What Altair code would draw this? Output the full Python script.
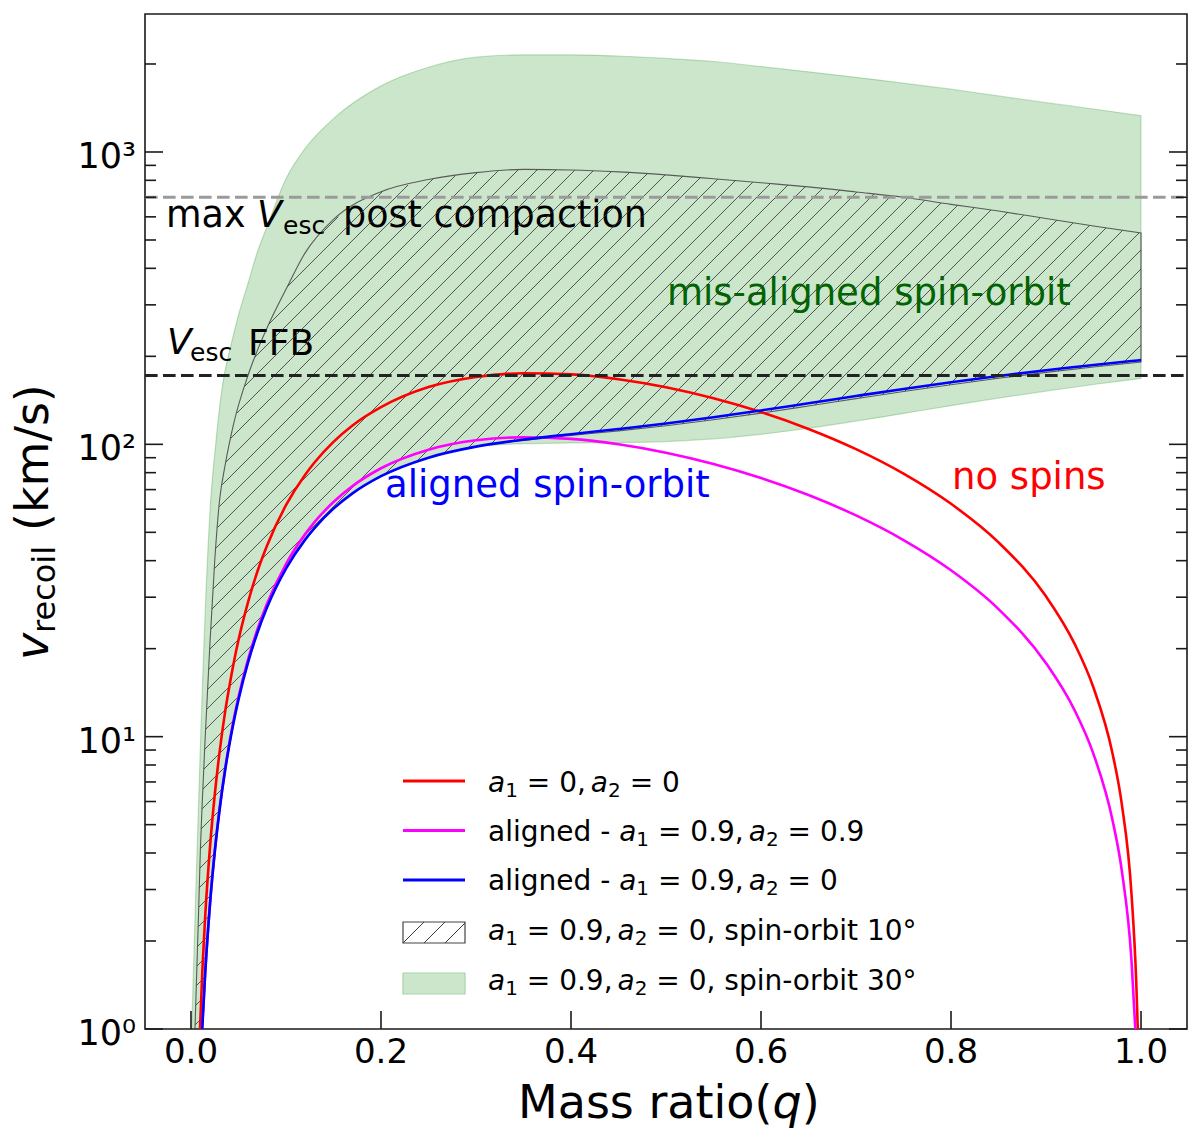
import numpy as np
import pandas as pd
import altair as alt

# recoil velocity (km/s) against mass ratio q
# no spins: a1 = 0, a2 = 0
q_red = [0.0095, 0.012, 0.015, 0.02, 0.025, 0.03, 0.036, 0.04, 0.045, 0.05,
         0.06, 0.07, 0.08, 0.1, 0.12, 0.13, 0.15, 0.17, 0.2, 0.25,
         0.3, 0.35, 0.4, 0.45, 0.5, 0.55, 0.6, 0.65, 0.7, 0.75,
         0.8, 0.85, 0.9, 0.93, 0.95, 0.97, 0.98, 0.99, 0.995, 0.9966]
v_red = [1.0, 1.59, 2.44, 4.18, 6.32, 8.80, 12.2, 14.6, 17.9, 21.4,
         28.8, 36.8, 45.0, 61.9, 78.6, 86.7, 102, 116, 134, 157,
         170, 175, 173.5, 167, 156.7, 143.7, 128.9, 112.9, 96.3, 79.4,
         62.6, 46.2, 30.2, 20.8, 14.7, 8.76, 5.81, 2.89, 1.44, 1.0]

# aligned: a1 = 0.9, a2 = 0.9
q_mag = [0.0117, 0.015, 0.02, 0.025, 0.03, 0.036, 0.04, 0.045, 0.05, 0.06,
         0.07, 0.08, 0.1, 0.12, 0.13, 0.15, 0.17, 0.2, 0.25, 0.3,
         0.35, 0.4, 0.45, 0.5, 0.55, 0.6, 0.65, 0.7, 0.75, 0.8,
         0.85, 0.9, 0.93, 0.95, 0.97, 0.98, 0.99, 0.994]
v_mag = [1.0, 1.57, 2.69, 4.06, 5.65, 7.79, 9.36, 11.44, 13.65, 18.34,
         23.32, 28.47, 38.96, 49.2, 54.17, 63.5, 71.96, 82.82, 95.91, 103.3,
         105.7, 104.4, 100.1, 93.64, 85.67, 76.68, 67.06, 57.11, 47.06, 37.09,
         27.32, 17.84, 12.33, 8.72, 5.18, 3.44, 1.71, 1.0]

# aligned: a1 = 0.9, a2 = 0
q_blue = [0.0118, 0.015, 0.02, 0.025, 0.03, 0.036, 0.04, 0.045, 0.05, 0.06,
          0.07, 0.08, 0.1, 0.12, 0.13, 0.15, 0.17, 0.2, 0.25, 0.3,
          0.35, 0.4, 0.45, 0.5, 0.55, 0.6, 0.65, 0.7, 0.75, 0.8,
          0.85, 0.9, 0.93, 0.95, 0.97, 0.99, 1.0]
v_blue = [1.0, 1.56, 2.67, 4.02, 5.58, 7.69, 9.22, 11.25, 13.39, 17.93,
          22.72, 27.64, 37.54, 47.12, 51.69, 60.25, 67.94, 77.79, 90.03, 98.2,
          103.8, 108.3, 112.8, 117.8, 123.7, 130.6, 138.2, 146.3, 154.7, 163.1,
          171.3, 179.3, 183.9, 186.9, 189.8, 192.7, 194.1]

# a1 = 0.9, a2 = 0, spin-orbit 30 deg (green band)
q_30 = [0.0007, 0.001, 0.0025, 0.005, 0.0075, 0.01, 0.012, 0.015, 0.02, 0.026,
        0.032, 0.043, 0.05, 0.06, 0.07, 0.08, 0.1, 0.12, 0.15, 0.2,
        0.25, 0.3, 0.35, 0.4, 0.45, 0.5, 0.55, 0.6, 0.65, 0.7,
        0.75, 0.8, 0.85, 0.9, 0.95, 1.0]
lo_30 = [1.0, 1.0, 1.0, 1.0, 1.0, 1.0, 1.02, 1.56, 2.67, 4.32,
         6.26, 10.4, 13.4, 17.9, 22.7, 27.6, 37.5, 47.1, 60.3, 77.8,
         90.0, 98.0, 100.5, 101.1, 101.4, 102.2, 104.4, 108.2, 113.5, 120.1,
         127.6, 135.6, 143.9, 152.1, 160.2, 168.0]
hi_30 = [1.0, 1.07, 1.55, 2.9, 5.3, 9.5, 14.8, 27, 59, 100,
         150, 225, 277, 355, 456, 555, 810, 1027, 1300, 1683,
         1950, 2110, 2150, 2150, 2130, 2090, 2040, 1960, 1880, 1800,
         1720, 1640, 1555, 1475, 1403, 1330]

# a1 = 0.9, a2 = 0, spin-orbit 10 deg (hatched band)
q_10 = [0.0042, 0.006, 0.008, 0.01, 0.012, 0.015, 0.02, 0.025, 0.03, 0.036,
        0.045, 0.06, 0.07, 0.08, 0.1, 0.12, 0.15, 0.2, 0.25, 0.3,
        0.35, 0.4, 0.45, 0.5, 0.55, 0.6, 0.65, 0.7, 0.75, 0.8,
        0.85, 0.9, 0.95, 1.0]
lo_10 = [1.0, 1.0, 1.0, 1.0, 1.02, 1.56, 2.67, 4.02, 5.58, 7.69,
         11.25, 17.93, 22.72, 27.64, 37.54, 47.12, 60.25, 77.79, 90.03, 98.2,
         103.2, 107.2, 111.2, 115.8, 121.4, 127.9, 135.3, 143.3, 151.6, 159.9,
         168.2, 176.2, 183.9, 191.1]
hi_10 = [1.0, 1.55, 2.5, 4.2, 6.1, 10.0, 21, 40, 64, 85,
         118, 172, 210, 250, 339, 451, 588, 731, 805, 850,
         872, 868, 855, 835, 810, 785, 760, 730, 700, 662,
         628, 592, 558, 528]

# escape velocities (km/s)
v_esc_max = 700
v_esc_ffb = 172

x_ticks = [0.0, 0.2, 0.4, 0.6, 0.8, 1.0]
x_labels = ['0.0', '0.2', '0.4', '0.6', '0.8', '1.0']
y_ticks = [1, 10, 100, 1000]
y_labels = ['10⁰', '10¹', '10²', '10³']

FONT = 'DejaVu Sans'
W, H = 1042, 1015
X_DOM = [-0.0484, 1.0484]
Y_TOP = 2965.0
LOG_TOP = np.log10(Y_TOP)

xs = alt.Scale(domain=X_DOM, nice=False, zero=False)
ys = alt.Scale(type='log', domain=[1, Y_TOP], nice=False)


def X(f):
    return alt.X(f, scale=xs, axis=None)


def Y(f):
    return alt.Y(f, scale=ys, axis=None)


# pixel (inside the plot area) -> data coordinates
def q_at(px):
    return X_DOM[0] + px / W * (X_DOM[1] - X_DOM[0])


def v_at(py):
    return 10 ** ((H - py) / H * LOG_TOP)


def px_x(q):
    return (np.asarray(q, dtype=float) - X_DOM[0]) / (X_DOM[1] - X_DOM[0]) * W


def px_w(v):  # height above the bottom edge
    return np.log10(np.asarray(v, dtype=float)) / LOG_TOP * H


# ---- bands ----
band30 = pd.DataFrame({'q': q_30, 'lo': lo_30, 'hi': hi_30})
band10 = pd.DataFrame({'q': q_10, 'lo': lo_10, 'hi': hi_10})

green = alt.Chart(band30).mark_area(
    color='#008000', fillOpacity=0.2, stroke='#008000', strokeOpacity=0.22,
    strokeWidth=1.2, interpolate='monotone', clip=True
).encode(x=X('q:Q'), y=Y('hi:Q'), y2='lo:Q')

hatch_edge = alt.Chart(band10).mark_area(
    fill='white', fillOpacity=0, stroke='#3a3a3a', strokeOpacity=0.8,
    strokeWidth=1.1, interpolate='monotone', clip=True
).encode(x=X('q:Q'), y=Y('hi:Q'), y2='lo:Q')

# diagonal hatch lines inside the 10 deg band
u10 = px_x(q_10)
wl10 = px_w(lo_10)
wh10 = px_w(hi_10)
ug = np.arange(u10[0], u10[-1], 0.25)
lo_g = np.interp(ug, u10, wl10)
hi_g = np.interp(ug, u10, wh10)
SP = 19.0
segs = []
for c in np.arange(-ug[-1] - SP, H + SP, SP):
    w = ug + c
    idx = np.flatnonzero((w >= lo_g) & (w <= hi_g))
    if idx.size < 2:
        continue
    br = np.flatnonzero(np.diff(idx) > 1)
    starts = np.r_[idx[0], idx[br + 1]]
    ends = np.r_[idx[br], idx[-1]]
    for s, e in zip(starts, ends):
        if e - s < 2:
            continue
        segs.append({'q1': q_at(ug[s]), 'v1': 10 ** ((ug[s] + c) / H * LOG_TOP),
                     'q2': q_at(ug[e]), 'v2': 10 ** ((ug[e] + c) / H * LOG_TOP)})
hatch = alt.Chart(pd.DataFrame(segs)).mark_rule(
    color='#3a3a3a', strokeWidth=1.0, opacity=0.85
).encode(x=X('q1:Q'), y=Y('v1:Q'), x2='q2:Q', y2='v2:Q')


# ---- curves ----
def curve(q, v, color):
    df = pd.DataFrame({'q': q, 'v': v})
    return alt.Chart(df).mark_line(color=color, strokeWidth=2.6,
                                   interpolate='monotone', clip=True).encode(
        x=X('q:Q'), y=Y('v:Q'))


red = curve(q_red, v_red, '#ff0000')
mag = curve(q_mag, v_mag, '#ff00ff')
blue = curve(q_blue, v_blue, '#0000ff')

esc_max = alt.Chart(pd.DataFrame({'v': [v_esc_max]})).mark_rule(
    color='#9a9a9a', strokeWidth=3, strokeDash=[12.6, 5.4]
).encode(x=alt.value(0), x2=alt.value(W), y=Y('v:Q'))
esc_ffb = alt.Chart(pd.DataFrame({'v': [v_esc_ffb]})).mark_rule(
    color='#222222', strokeWidth=3, strokeDash=[12.6, 5.4]
).encode(x=alt.value(0), x2=alt.value(W), y=Y('v:Q'))

# ---- ticks (inward, matplotlib style) ----
TK = dict(color='#1a1a1a', strokeWidth=1.6)
ymaj = pd.DataFrame({'v': y_ticks})
ymin = pd.DataFrame({'v': [m * 10 ** k for k in range(4) for m in range(2, 10)
                           if m * 10 ** k < Y_TOP]})
ticks = [
    alt.Chart(ymaj).mark_rule(**TK).encode(x=alt.value(0), x2=alt.value(18), y=Y('v:Q')),
    alt.Chart(ymaj).mark_rule(**TK).encode(x=alt.value(W - 18), x2=alt.value(W), y=Y('v:Q')),
    alt.Chart(ymin).mark_rule(**TK).encode(x=alt.value(0), x2=alt.value(11), y=Y('v:Q')),
    alt.Chart(ymin).mark_rule(**TK).encode(x=alt.value(W - 11), x2=alt.value(W), y=Y('v:Q')),
    alt.Chart(pd.DataFrame({'q': x_ticks})).mark_rule(**TK).encode(
        x=X('q:Q'), y=alt.value(H - 18), y2=alt.value(H)),
]
ylab = alt.Chart(pd.DataFrame({'v': y_ticks, 'lab': y_labels})).mark_text(
    align='right', baseline='alphabetic', font=FONT, fontSize=35, dy=16, color='black'
).encode(x=alt.value(-9), y=Y('v:Q'), text='lab:N')
xlab = alt.Chart(pd.DataFrame({'q': x_ticks, 'lab': x_labels})).mark_text(
    align='center', baseline='alphabetic', font=FONT, fontSize=34, color='black'
).encode(x=X('q:Q'), y=alt.value(H + 34), text='lab:N')

# ---- text pieces (mixed roman / italic / subscript) ----
ADV = {' ': .318, 'a': .613, 'b': .635, 'c': .550, 'd': .635, 'e': .615, 'g': .635,
       'i': .278, 'k': .579, 'l': .278, 'm': .974, 'n': .634, 'o': .612, 'p': .635,
       'q': .635, 'r': .411, 's': .521, 't': .392, 'v': .592, 'x': .592, 'M': .863,
       'V': .684, 'F': .575, 'B': .686, '(': .390, ')': .390, '-': .361, ',': .318,
       '.': .318, '=': .838, '°': .5, '/': .337}


def tw(s, fs):
    return sum(ADV.get(ch, .636) for ch in s) * fs


rows_n, rows_i = [], []


def put(px, py, text, fs, col='black', italic=False, ang=0):
    # svg drops leading blanks, so turn them into an offset
    body = text.lstrip(' ')
    px += (len(text) - len(body)) * ADV[' '] * fs
    (rows_i if italic else rows_n).append(
        {'q': q_at(px), 'v': v_at(py), 't': body, 'fs': fs, 'col': col, 'ang': ang})
    return px + tw(body, fs)


# escape-velocity labels
put(21, 213, 'max', 36.5)
put(112, 213, 'V', 36.5, italic=True)
put(138, 220, 'esc', 25)
put(198, 213, 'post compaction', 36.5)
put(22, 340, 'V', 36, italic=True)
put(45, 347, 'esc', 25)
put(103, 341, 'FFB', 36)
# curve labels
put(522, 291, 'mis-aligned spin-orbit', 37, col='#006400')
put(240, 483, 'aligned spin-orbit', 37, col='#0000ff')
put(807, 475, 'no spins', 37, col='#ff0000')
# axis titles
x = put(373, 1104, 'Mass ratio(', 46)
x = put(x, 1104, 'q', 46, italic=True)
put(x, 1104, ')', 46)
put(-97, 646, 'v', 46, italic=True, ang=270)
put(-90, 619, 'recoil', 32, ang=270)
put(-97, 517, '(km/s)', 46, ang=270)

# legend
LFS, SFS = 28, 20
LX = 343


def leg_row(base, parts):
    x = LX
    for txt, kind in parts:
        if kind == 'i':
            x = put(x, base, txt, LFS, italic=True)
        elif kind == 's':
            x = put(x, base + 5, txt, SFS)
        elif kind == 'g':
            x += txt
        else:
            x = put(x, base, txt, LFS)


leg_row(777.7, [('a', 'i'), ('1', 's'), (' = 0,', 'n'), (5, 'g'),
                ('a', 'i'), ('2', 's'), (' = 0', 'n')])
leg_row(826.7, [('aligned - ', 'n'), ('a', 'i'), ('1', 's'), (' = 0.9,', 'n'), (5, 'g'),
                ('a', 'i'), ('2', 's'), (' = 0.9', 'n')])
leg_row(876.0, [('aligned - ', 'n'), ('a', 'i'), ('1', 's'), (' = 0.9,', 'n'), (5, 'g'),
                ('a', 'i'), ('2', 's'), (' = 0', 'n')])
leg_row(926.0, [('a', 'i'), ('1', 's'), (' = 0.9,', 'n'), (5, 'g'), ('a', 'i'), ('2', 's'),
                (' = 0, spin-orbit 10°', 'n')])
leg_row(975.5, [('a', 'i'), ('1', 's'), (' = 0.9,', 'n'), (5, 'g'), ('a', 'i'), ('2', 's'),
                (' = 0, spin-orbit 30°', 'n')])

leg_lines = pd.DataFrame({'q1': [q_at(258)] * 3, 'q2': [q_at(320)] * 3,
                          'v': [v_at(767), v_at(816.5), v_at(866)],
                          'c': ['#ff0000', '#ff00ff', '#0000ff']})
leg_line_marks = alt.Chart(leg_lines).mark_rule(strokeWidth=2.8).encode(
    x=X('q1:Q'), x2='q2:Q', y=Y('v:Q'), color=alt.Color('c:N', scale=None))

leg_hatch_box = alt.Chart(pd.DataFrame({'q1': [q_at(258)], 'q2': [q_at(320)],
                                        'v1': [v_at(908)], 'v2': [v_at(929)]})).mark_rect(
    fill='white', stroke='#444444', strokeWidth=1.2).encode(
    x=X('q1:Q'), x2='q2:Q', y=Y('v1:Q'), y2='v2:Q')
leg_hatch_lines = alt.Chart(pd.DataFrame({
    'q1': [q_at(258), q_at(279), q_at(300)], 'v1': [v_at(929)] * 3,
    'q2': [q_at(279), q_at(300), q_at(320)], 'v2': [v_at(908), v_at(908), v_at(909)]})
).mark_rule(color='#3a3a3a', strokeWidth=1.0).encode(
    x=X('q1:Q'), x2='q2:Q', y=Y('v1:Q'), y2='v2:Q')
leg_green_box = alt.Chart(pd.DataFrame({'q1': [q_at(258)], 'q2': [q_at(320)],
                                        'v1': [v_at(959)], 'v2': [v_at(980)]})).mark_rect(
    fill='#cce6cc', stroke='#a8d4a8', strokeWidth=1.2).encode(
    x=X('q1:Q'), x2='q2:Q', y=Y('v1:Q'), y2='v2:Q')


def text_layer(rows, italic):
    kw = dict(align='left', baseline='alphabetic', font=FONT)
    if italic:
        kw['fontStyle'] = 'italic'
    return alt.Chart(pd.DataFrame(rows)).mark_text(**kw).encode(
        x=X('q:Q'), y=Y('v:Q'), text='t:N',
        size=alt.Size('fs:Q', scale=None),
        color=alt.Color('col:N', scale=None),
        angle=alt.Angle('ang:Q', scale=None))


chart = alt.layer(
    green, hatch_edge,
    text_layer(rows_n, False), text_layer(rows_i, True),
    hatch,
    red, mag, blue,
    esc_max, esc_ffb,
    *ticks, ylab, xlab,
    leg_line_marks, leg_hatch_box, leg_hatch_lines, leg_green_box,
).properties(
    width=W, height=H,
    padding={'left': 137, 'top': 6, 'right': 5, 'bottom': 107},
    autosize='none',
).configure_view(stroke='#1a1a1a', strokeWidth=1.6)

chart.save('out.html', embed_options={'renderer': 'svg', 'actions': False})
